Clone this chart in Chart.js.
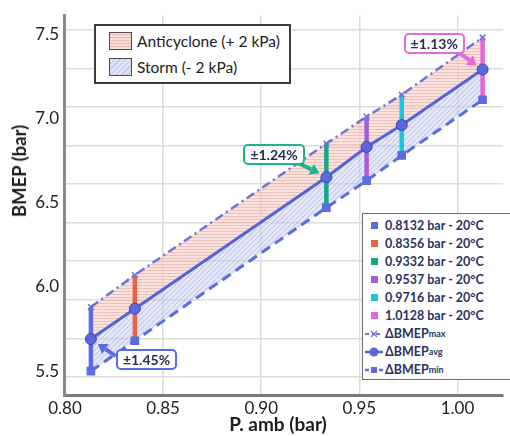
<!DOCTYPE html>
<html>
<head>
<meta charset="utf-8">
<script src="https://cdn.jsdelivr.net/npm/chart.js@4/dist/chart.umd.min.js"></script>
<style>
  body { margin: 0; background: #fff; font-family: Lato, "Open Sans", sans-serif; }
  #wrap { position: relative; width: 510px; height: 436px; overflow: hidden; }
  #chart { position: absolute; left: 0; top: 0; }
  .ytitle { position: absolute; left: 19px; top: 171px; transform: translate(-50%, -50%) rotate(-90deg);
            font-size: 18.5px; font-weight: bold; color: #1d1d1d; white-space: nowrap; }
  .xtitle { position: absolute; left: 278px; top: 423px; transform: translate(-50%, -50%);
            font-size: 19px; font-weight: bold; color: #1d1d1d; white-space: nowrap; }
  .leg1 { position: absolute; left: 94px; top: 24px; width: 193px; height: 56px; border: 2px solid #3c3c3c;
          background: #fff; font-size: 15.5px; color: #202020; }
  .leg1 .row { position: absolute; left: 13px; display: flex; align-items: center; white-space: nowrap; }
  .leg1 .sw { width: 21px; height: 16px; border: 1.5px solid #4a4a4a; margin-right: 5px; }
  .pink { background: repeating-linear-gradient(0deg, #f8dcd8 0 2px, #ebb9b3 2px 3px); }
  .blue { background: repeating-linear-gradient(135deg, #dde2f4 0 3px, #bcc3e4 3px 4px); }
  .leg2 { position: absolute; left: 362px; top: 213px; width: 170px; height: 167px; border: 1.5px solid #6a6a6a;
          background: #fff; padding-top: 2px; box-sizing: border-box; }
  .leg2 .row { height: 18.1px; display: flex; align-items: center; font-size: 12.5px; font-weight: bold;
               color: #2b3262; white-space: nowrap; }
  .leg2 .ic { width: 22px; display: flex; justify-content: center; }
  .leg2 .sq { width: 7px; height: 7px; }
  .leg2 sub { font-size: 9px; vertical-align: -3px; line-height: 0; }
  .tag { position: absolute; height: 17px; line-height: 17px; padding: 0 5px; background: #fff; border: 2px solid;
         border-radius: 5px; font-size: 14px; font-weight: bold; color: #252c50; white-space: nowrap; }
</style>
</head>
<body>
<div id="wrap">
  <canvas id="chart" width="510" height="436"></canvas>
  <div class="ytitle">BMEP (bar)</div>
  <div class="xtitle">P. amb (bar)</div>
  <div class="leg1">
    <div class="row" style="top:6px"><div class="sw pink"></div>Anticyclone (+ 2 kPa)</div>
    <div class="row" style="top:32px"><div class="sw blue"></div>Storm (- 2 kPa)</div>
  </div>
  <div class="leg2" id="leg2"></div>
</div>
<script>
// measured cases
const pressures = [0.8132, 0.8356, 0.9332, 0.9537, 0.9716, 1.0128];
const bmepAvg = [5.69, 5.87, 6.65, 6.83, 6.96, 7.29];
const bmepMax = [5.88, 6.07, 6.85, 7.01, 7.14, 7.48];
const bmepMin = [5.50, 5.68, 6.47, 6.63, 6.78, 7.11];
const caseColors = ['#5b6be0', '#e8624a', '#17a688', '#a25ed4', '#19c6dc', '#e466dc'];
const caseLabels = ['0.8132 bar - 20°C', '0.8356 bar - 20°C', '0.9332 bar - 20°C',
                    '0.9537 bar - 20°C', '0.9716 bar - 20°C', '1.0128 bar - 20°C'];

// spread call-outs
const spreadIdx = [0, 2, 5];
const spreadText = ['±1.45%', '±1.24%', '±1.13%'];
const spreadColors = ['#5a6ae0', '#1db38f', '#e46ade'];

// axes
const xTicks = [0.80, 0.85, 0.90, 0.95, 1.00];
const yTicks = [5.5, 6.0, 6.5, 7.0, 7.5];
const yGridLines = [5.465, 5.694, 5.923, 6.152, 6.381, 6.610, 6.839, 7.067, 7.296, 7.525];

// tag/arrow offsets from the avg point (px)
const tagPos = [{dx: 25, dy: 10}, {dx: -83, dy: -33}, {dx: -79, dy: -36}];
const arrows = [{tx: 25, ty: 17, hx: 7, hy: 5}, {tx: -30, ty: -15, hx: -7, hy: -4}, {tx: -24, ty: -17, hx: -6, hy: -4}];

function pattern(kind) {
  const c = document.createElement('canvas');
  const g = c.getContext('2d');
  if (kind === 'h') {
    c.width = 4; c.height = 3;
    g.fillStyle = 'rgba(245, 208, 202, 0.6)';
    g.fillRect(0, 0, 4, 3);
    g.fillStyle = 'rgba(228, 150, 140, 0.45)';
    g.fillRect(0, 0, 4, 1);
  } else {
    c.width = 5; c.height = 5;
    g.fillStyle = 'rgba(200, 208, 240, 0.5)';
    g.fillRect(0, 0, 5, 5);
    g.strokeStyle = 'rgba(120, 132, 200, 0.38)';
    g.lineWidth = 1;
    g.beginPath();
    g.moveTo(0, 5); g.lineTo(5, 0);
    g.moveTo(-1, 1); g.lineTo(1, -1);
    g.moveTo(4, 6); g.lineTo(6, 4);
    g.stroke();
  }
  return g.createPattern(c, 'repeat');
}

const pts = arr => pressures.map((p, i) => ({x: p, y: arr[i]}));

const datasets = [
  {
    data: pts(bmepMax), borderColor: '#6d73d6', borderWidth: 2.5, borderDash: [9, 4, 2, 4],
    pointStyle: 'crossRot', pointRadius: 4, pointBorderColor: '#6d73d6', pointBorderWidth: 1.5,
    fill: '+1', backgroundColor: pattern('h'), order: 1
  },
  {
    data: pts(bmepAvg), borderColor: '#5562d8', borderWidth: 3,
    pointStyle: 'circle', pointRadius: 5.5, pointBackgroundColor: '#5c68da', pointBorderColor: '#3b46ad',
    pointBorderWidth: 1, fill: '+1', backgroundColor: pattern('d'), order: 0
  },
  {
    data: pts(bmepMin), borderColor: '#5b6be0', borderWidth: 3, borderDash: [10, 6],
    pointStyle: 'rect', pointRadius: 4, pointBackgroundColor: '#5b6be0', pointBorderColor: '#5b6be0',
    fill: false, order: 1
  }
];
pressures.forEach((p, i) => {
  datasets.push({
    data: [{x: p, y: bmepMax[i]}, {x: p, y: bmepMin[i]}],
    borderColor: caseColors[i], borderWidth: 4.5, pointRadius: 0, fill: false, order: 2
  });
});

// legend on the right
const leg2 = document.getElementById('leg2');
caseLabels.forEach((t, i) => {
  leg2.insertAdjacentHTML('beforeend',
    `<div class="row"><div class="ic"><div class="sq" style="background:${caseColors[i]}"></div></div>${t}</div>`);
});
const lineIcons = [
  '<svg width="18" height="10"><line x1="0" y1="5" x2="18" y2="5" stroke="#6d73d6" stroke-width="2" stroke-dasharray="4 3 1 3"/><path d="M6 2 L12 8 M12 2 L6 8" stroke="#6d73d6" stroke-width="1.3"/></svg>',
  '<svg width="18" height="10"><line x1="0" y1="5" x2="18" y2="5" stroke="#5562d8" stroke-width="2.5"/><circle cx="9" cy="5" r="4.5" fill="#5c68da"/></svg>',
  '<svg width="18" height="10"><line x1="0" y1="5" x2="18" y2="5" stroke="#5b6be0" stroke-width="2.5" stroke-dasharray="4 3"/><rect x="6" y="2" width="6" height="6" fill="#5b6be0"/></svg>'
];
['max', 'avg', 'min'].forEach((s, k) => {
  leg2.insertAdjacentHTML('beforeend',
    `<div class="row"><div class="ic">${lineIcons[k]}</div>ΔBMEP<sub>${s}</sub></div>`);
});

// tags
const wrap = document.getElementById('wrap');
const tags = spreadText.map((t, k) => {
  const d = document.createElement('div');
  d.className = 'tag';
  d.textContent = t;
  d.style.borderColor = spreadColors[k];
  wrap.appendChild(d);
  return d;
});

const callouts = {
  id: 'callouts',
  afterDraw(chart) {
    const ctx = chart.ctx, xs = chart.scales.x, ys = chart.scales.y;
    spreadIdx.forEach((i, k) => {
      const px = xs.getPixelForValue(pressures[i]);
      const py = ys.getPixelForValue(bmepAvg[i]);
      const a = arrows[k];
      const x0 = px + a.tx, y0 = py + a.ty, x1 = px + a.hx, y1 = py + a.hy;
      const ang = Math.atan2(y1 - y0, x1 - x0);
      const hl = 9, hw = 6;
      const bx = x1 - hl * Math.cos(ang), by = y1 - hl * Math.sin(ang);
      ctx.save();
      ctx.strokeStyle = spreadColors[k];
      ctx.fillStyle = spreadColors[k];
      ctx.lineWidth = 4;
      ctx.beginPath();
      ctx.moveTo(x0, y0);
      ctx.lineTo(bx, by);
      ctx.stroke();
      ctx.beginPath();
      ctx.moveTo(x1, y1);
      ctx.lineTo(bx + hw * Math.sin(ang), by - hw * Math.cos(ang));
      ctx.lineTo(bx - hw * Math.sin(ang), by + hw * Math.cos(ang));
      ctx.closePath();
      ctx.fill();
      ctx.restore();
      tags[k].style.left = (px + tagPos[k].dx) + 'px';
      tags[k].style.top = (py + tagPos[k].dy) + 'px';
    });
  }
};

Chart.defaults.font.family = 'Lato';

new Chart(document.getElementById('chart'), {
  type: 'line',
  data: { datasets: datasets },
  options: {
    responsive: false,
    animation: false,
    layout: { padding: { top: 14, right: 2, left: 0, bottom: 0 } },
    plugins: {
      legend: { display: false },
      tooltip: { enabled: false },
      filler: { drawTime: 'beforeDatasetsDraw' }
    },
    scales: {
      x: {
        type: 'linear', min: 0.7995, max: 1.0232,
        afterBuildTicks: s => { s.ticks = xTicks.map(v => ({value: v})); },
        afterFit: s => { s.height = 41; },
        ticks: { callback: v => v.toFixed(2), font: { size: 17 }, color: '#222', padding: 3, maxRotation: 0 },
        grid: { color: '#dcdcdc', lineWidth: 1.5, drawTicks: false },
        border: { color: '#7a7a7a', width: 3 }
      },
      y: {
        type: 'linear', position: 'left', min: 5.358, max: 7.612, weight: 1,
        afterBuildTicks: s => { s.ticks = yTicks.map(v => ({value: v})); },
        afterFit: s => { s.width = 64; },
        ticks: { callback: v => v.toFixed(1), font: { size: 17 }, color: '#222', padding: 5 },
        grid: { display: false, drawTicks: false },
        border: { color: '#8a8a8a', width: 3 }
      },
      yGrid: {
        type: 'linear', position: 'left', min: 5.358, max: 7.612, weight: 0,
        afterBuildTicks: s => { s.ticks = yGridLines.map(v => ({value: v})); },
        afterFit: s => { s.width = 0; },
        ticks: { display: false },
        grid: { color: '#dcdcdc', lineWidth: 1.5, drawTicks: false },
        border: { display: false }
      }
    }
  },
  plugins: [callouts]
});
</script>
</body>
</html>
